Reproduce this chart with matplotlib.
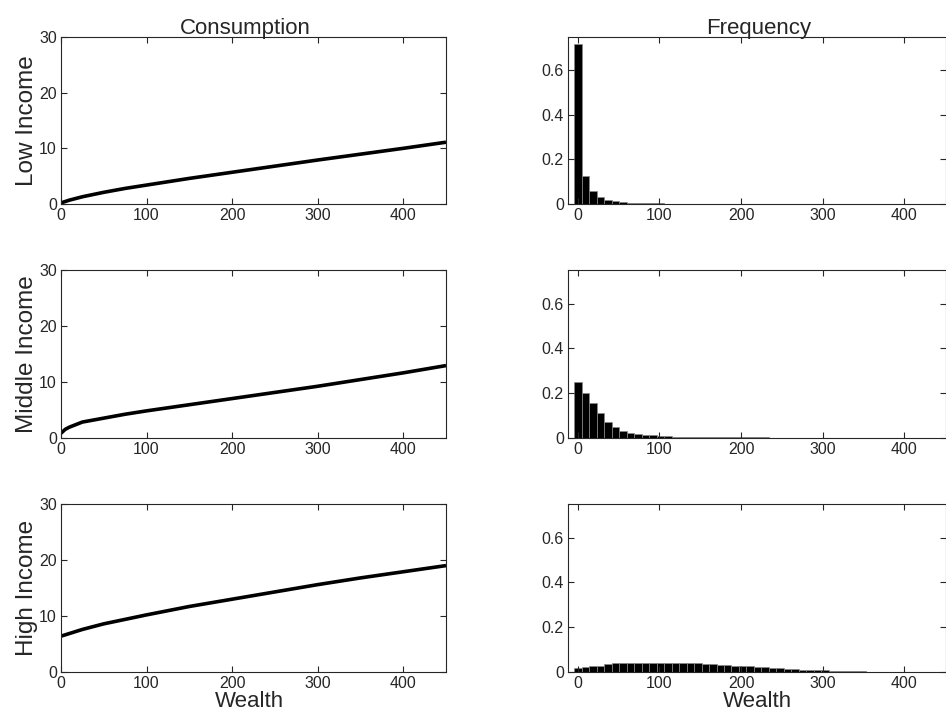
import numpy as np
import matplotlib
matplotlib.use("Agg")
import matplotlib.pyplot as plt
from matplotlib.ticker import FuncFormatter

plt.rcParams['font.family'] = ['Liberation Sans', 'DejaVu Sans']

# ---- Consumption policy ----
w_low = [0, 5, 10, 25, 50, 75, 100, 150, 200, 250, 300, 350, 400, 450]
c_low = [0.2, 0.45, 0.7, 1.3, 2.1, 2.8, 3.4, 4.6, 5.7, 6.8, 7.9, 8.95, 10.0, 11.1]

w_mid = [0, 5, 10, 25, 50, 75, 100, 150, 200, 250, 300, 350, 400, 450]
c_mid = [0.8, 1.5, 1.9, 2.8, 3.5, 4.2, 4.8, 5.9, 7.0, 8.1, 9.2, 10.4, 11.6, 12.9]

w_high = [0, 25, 50, 75, 100, 150, 200, 250, 300, 350, 400, 450]
c_high = [6.4, 7.6, 8.6, 9.4, 10.2, 11.7, 13.0, 14.3, 15.6, 16.8, 17.9, 19.0]

# ---- Wealth distribution (50 bins from 0 to 450) ----
bin_centers = np.linspace(0, 450, 50)
freq_low = [0.72, 0.127, 0.057, 0.031, 0.018, 0.012, 0.008, 0.006, 0.0045, 0.0035,
            0.003, 0.0025, 0.002, 0.0018, 0.0015, 0.0012, 0.001, 0.001, 0.0008, 0.0007,
            0.0006, 0.0005, 0.0005, 0.0004, 0.0004, 0.0003, 0.0003, 0.0003, 0.0002, 0.0002,
            0.0002, 0.0002, 0.0001, 0.0001, 0.0001, 0.0001, 0.0001, 0.0001, 0.0001, 0.0001,
            0.0001, 0.0001, 0.0001, 0.0001, 0.0001, 0.0001, 0.0001, 0.0001, 0.0001, 0.0001]
freq_mid = [0.249, 0.201, 0.155, 0.110, 0.072, 0.046, 0.030, 0.021, 0.016, 0.012,
            0.010, 0.008, 0.006, 0.005, 0.0045, 0.004, 0.0035, 0.003, 0.0025, 0.002,
            0.0018, 0.0016, 0.0014, 0.0012, 0.001, 0.0009, 0.0008, 0.0007, 0.0006, 0.0005,
            0.0005, 0.0004, 0.0004, 0.0003, 0.0003, 0.0003, 0.0002, 0.0002, 0.0002, 0.0002,
            0.0002, 0.0001, 0.0001, 0.0001, 0.0001, 0.0001, 0.0001, 0.0001, 0.0001, 0.0001]
freq_high = [0.017, 0.021, 0.027, 0.029, 0.035, 0.038, 0.040, 0.041, 0.042, 0.042,
             0.042, 0.042, 0.041, 0.041, 0.040, 0.039, 0.038, 0.036, 0.034, 0.033,
             0.031, 0.029, 0.027, 0.025, 0.023, 0.021, 0.019, 0.017, 0.015, 0.013,
             0.011, 0.010, 0.009, 0.007, 0.006, 0.005, 0.004, 0.003, 0.0025, 0.002,
             0.0015, 0.0012, 0.001, 0.0008, 0.0006, 0.0005, 0.0004, 0.0003, 0.0003, 0.0002]

row_labels = ["Low Income", "Middle Income", "High Income"]
cons_w = [w_low, w_mid, w_high]
cons_c = [c_low, c_mid, c_high]
freqs = [freq_low, freq_mid, freq_high]

W, H = 946, 723
fig = plt.figure(figsize=(W / 100, H / 100), dpi=100)

rows_px = [(37, 204), (270, 437.7), (504, 672)]
left_px = (61, 446)
right_px = (568, 946)
axcol = '#262626'


def style(ax):
    for s in ax.spines.values():
        s.set_color(axcol)
        s.set_linewidth(0.8)
    ax.tick_params(direction='in', length=4, width=0.8, colors=axcol,
                   labelsize=11.5, top=True, right=True, labelcolor=axcol, pad=3)


fmt = FuncFormatter(lambda v, p: "0" if abs(v) < 1e-9 else ("%g" % v))

for i, (t, b) in enumerate(rows_px):
    bottom = 1 - b / H
    height = (b - t) / H
    axl = fig.add_axes([left_px[0] / W, bottom, (left_px[1] - left_px[0]) / W, height])
    axl.plot(cons_w[i], cons_c[i], color='black', lw=2.6, solid_capstyle='butt',
             solid_joinstyle='round')
    axl.set_xlim(0, 450)
    axl.set_ylim(0, 30)
    axl.set_xticks([0, 100, 200, 300, 400])
    axl.set_yticks([0, 10, 20, 30])
    style(axl)
    axl.set_ylabel(row_labels[i], fontsize=17.5, color=axcol, labelpad=1)

    axr = fig.add_axes([right_px[0] / W, bottom, (right_px[1] - right_px[0]) / W, height])
    axr.bar(bin_centers, freqs[i], width=bin_centers[1] - bin_centers[0],
            color='black', edgecolor='#8a8a8a', linewidth=0.5)
    axr.set_xlim(-12, 451)
    axr.set_ylim(0, 0.75)
    axr.set_xticks([0, 100, 200, 300, 400])
    axr.set_yticks([0, 0.2, 0.4, 0.6])
    axr.yaxis.set_major_formatter(fmt)
    style(axr)

    if i == 0:
        axl.set_title("Consumption", fontsize=16, color=axcol, pad=2, x=0.48)
        axr.set_title("Frequency", fontsize=16, color=axcol, pad=2, x=0.505)
    if i == 2:
        axl.set_xlabel("Wealth", fontsize=16, color=axcol, labelpad=0, x=0.49)
        axr.set_xlabel("Wealth", fontsize=16, color=axcol, labelpad=0)

fig.savefig("out.png", dpi=100)
